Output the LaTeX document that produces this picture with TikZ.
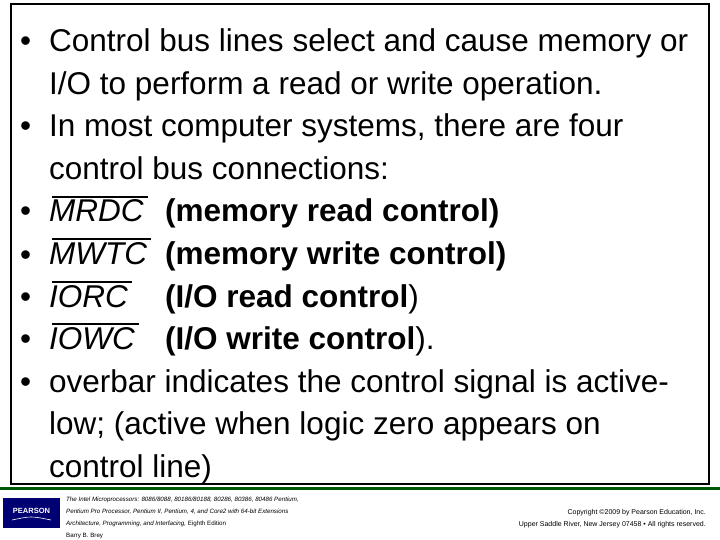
\documentclass[tikz,border=0pt]{standalone}
\usepackage{fontspec}
\setmainfont{Liberation Sans}
\begin{document}
\begin{tikzpicture}[x=1pt,y=-1pt,
  txt/.style={anchor=base west,inner sep=0pt,font=\fontsize{31.5}{36}\selectfont},
  bul/.style={anchor=base west,inner sep=0pt,font=\fontsize{31.5}{36}\selectfont},
  foot/.style={anchor=base west,inner sep=0pt,font=\fontsize{6.2}{8}\selectfont\itshape},
  footr/.style={anchor=base east,inner sep=0pt,font=\fontsize{7}{8}\selectfont},
  bar/.style={line width=2pt}]
\useasboundingbox (0,0) rectangle (720,540);
\draw[line width=2pt] (11,4) rectangle (709,484);
\draw[line width=3pt,green!35!black] (0,488) -- (720,488);
\foreach \y in {52,137,222,265,307,349,392} \node[bul] at (20,\y) {•};
\node[txt] (l1) at (49,52) {Control bus lines select and cause memory or};
\node[txt] (l2) at (49,94.5) {I/O to perform a read or write operation.};
\node[txt] (l3) at (49,137) {In most computer systems, there are four};
\node[txt] (l4) at (49,179.5) {control bus connections:};
\node[txt] (m1) at (49,222) {\itshape MRDC};
\node[txt] (m2) at (49,264.5) {\itshape MWTC};
\node[txt] (m3) at (49,307) {\itshape IORC};
\node[txt] (m4) at (49,349.5) {\itshape IOWC};
\node[txt] (d1) at (165,222) {\textbf{(memory read control)}};
\node[txt] (d2) at (165,264.5) {\textbf{(memory write control)}};
\node[txt] (d3) at (165,307) {\textbf{(I/O read control})};
\node[txt] (d4) at (165,349.5) {\textbf{(I/O write control}).};
\node[txt] (l9) at (49,392) {overbar indicates the control signal is active-};
\node[txt] (l10) at (49,434.5) {low; (active when logic zero appears on};
\node[txt] (l11) at (49,477) {control line)};
\foreach \n in {m1,m2,m3,m4} \draw[bar] ([xshift=3pt,yshift=3pt]\n.north west) -- ([xshift=4pt,yshift=3pt]\n.north east);
\fill[blue!45!black] (3,498) rectangle (60,528);
\node[inner sep=0pt,text=white,font=\fontsize{7.5}{8}\selectfont\bfseries] (logo) at (31.5,511) {PEARSON};
\draw[white,line width=0.6pt] (12,520) .. controls (31,516) .. (51,520);
\node[foot] (f1) at (66,501) {The Intel Microprocessors: 8086/8088, 80186/80188, 80286, 80386, 80486 Pentium,};
\node[foot] (f2) at (66,513) {Pentium Pro Processor, Pentium II, Pentium, 4, and Core2 with 64-bit Extensions};
\node[foot] (f3) at (66,525) {Architecture, Programming, and Interfacing, \upshape Eighth Edition};
\node[foot,font=\fontsize{6.2}{8}\selectfont] (f4) at (66,537) {Barry B. Brey};
\node[footr] (c1) at (706,514) {Copyright ©2009 by Pearson Education, Inc.};
\node[footr] (c2) at (706,526) {Upper Saddle River, New Jersey 07458 • All rights reserved.};
\end{tikzpicture}
\end{document}
